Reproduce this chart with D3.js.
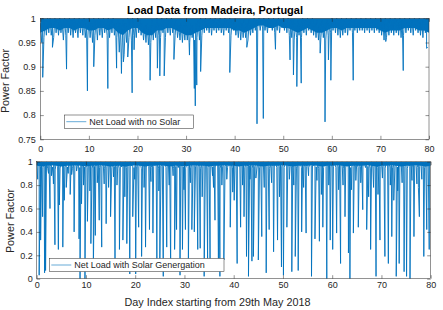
<!DOCTYPE html>
<html>
<head>
<meta charset="utf-8">
<script src="https://cdn.jsdelivr.net/npm/d3@7"></script>
<style>
  body { margin: 0; background: #fff; }
  svg { display: block; font-family: "Liberation Sans", Arial, sans-serif; }
</style>
</head>
<body>
<div id="chart"></div>
<script>
// sampling step of the dense band (days)
var bandStep = 0.25;

// power factor, net load with no solar (band, every 6h)
var topBand = [
  0.99, 0.955, 1, 0.96, 0.995, 0.965, 1, 0.97,
  1, 0.965, 0.99, 0.96, 1, 0.97, 0.995, 0.965,
  1, 0.97, 0.99, 0.955, 1, 0.965, 0.995, 0.97,
  1, 0.965, 0.995, 0.96, 1, 0.97, 0.99, 0.96,
  1, 0.97, 0.995, 0.965, 1, 0.96, 0.99, 0.955,
  1, 0.96, 0.99, 0.95, 1, 0.965, 0.995, 0.955,
  1, 0.965, 0.995, 0.96, 1, 0.97, 0.99, 0.965,
  1, 0.96, 0.995, 0.97, 1, 0.965, 0.99, 0.96,
  0.995, 0.93, 0.99, 0.915, 0.995, 0.925, 0.99, 0.95,
  1, 0.96, 0.995, 0.955, 1, 0.965, 0.99, 0.96,
  1, 0.97, 0.995, 0.965, 0.99, 0.955, 0.985, 0.95,
  0.99, 0.945, 0.985, 0.95, 0.995, 0.955, 0.99, 0.96,
  1, 0.965, 0.99, 0.96, 1, 0.97, 0.995, 0.96,
  1, 0.97, 0.995, 0.965, 1, 0.97, 0.99, 0.965,
  0.995, 0.96, 0.985, 0.955, 0.99, 0.95, 0.985, 0.955,
  0.99, 0.955, 0.985, 0.95, 0.99, 0.96, 0.985, 0.955,
  0.99, 0.96, 0.995, 0.955, 1, 0.965, 0.995, 0.97,
  1, 0.975, 0.995, 0.97, 1, 0.965, 0.995, 0.975,
  1, 0.97, 0.995, 0.975, 1, 0.97, 0.99, 0.965,
  1, 0.975, 0.995, 0.97, 1, 0.965, 0.995, 0.975,
  0.995, 0.965, 0.99, 0.96, 0.995, 0.955, 0.99, 0.96,
  0.995, 0.96, 0.99, 0.955, 0.995, 0.965, 0.99, 0.97,
  1, 0.975, 0.995, 0.98, 1, 0.975, 0.995, 0.98,
  1, 0.975, 0.995, 0.97, 1, 0.98, 0.995, 0.975,
  1, 0.97, 0.995, 0.975, 1, 0.97, 0.995, 0.98,
  1, 0.975, 0.995, 0.97, 1, 0.965, 0.995, 0.96,
  0.995, 0.955, 0.99, 0.96, 0.995, 0.965, 0.99, 0.96,
  1, 0.97, 0.995, 0.965, 1, 0.975, 0.995, 0.97,
  1, 0.965, 0.99, 0.96, 0.995, 0.955, 0.99, 0.96,
  0.995, 0.96, 0.99, 0.955, 0.995, 0.965, 0.99, 0.97,
  1, 0.975, 0.995, 0.97, 1, 0.965, 0.995, 0.96,
  1, 0.965, 0.995, 0.97, 1, 0.965, 0.995, 0.975,
  1, 0.97, 0.995, 0.975, 1, 0.97, 0.995, 0.975,
  1, 0.975, 0.995, 0.97, 1, 0.975, 0.995, 0.97,
  1, 0.975, 0.995, 0.97, 1, 0.975, 0.995, 0.97,
  1, 0.965, 0.995, 0.955, 1, 0.96, 0.995, 0.965,
  1, 0.97, 0.995, 0.965, 1, 0.97, 0.995, 0.965,
  1, 0.96, 0.995, 0.965, 1, 0.97, 0.995, 0.975,
  1, 0.97, 0.995, 0.965, 1, 0.975, 0.995, 0.97,
  1, 0.965, 0.995, 0.96, 1, 0.97, 0.99, 0.94
];

// lower edge of the solid core of the top trace, one value per day (0..80)
var topCore = [
  0.97, 0.975, 0.98, 0.98, 0.975, 0.98, 0.98, 0.975, 0.98, 0.98,
  0.975, 0.975, 0.98, 0.98, 0.975, 0.98, 0.97, 0.965, 0.975, 0.98,
  0.98, 0.97, 0.965, 0.965, 0.975, 0.975, 0.98, 0.98, 0.975, 0.97,
  0.965, 0.965, 0.97, 0.975, 0.98, 0.98, 0.98, 0.98, 0.98, 0.98,
  0.975, 0.975, 0.97, 0.975, 0.98, 0.985, 0.985, 0.98, 0.98, 0.985,
  0.98, 0.98, 0.975, 0.97, 0.975, 0.98, 0.975, 0.97, 0.97, 0.975,
  0.98, 0.98, 0.975, 0.98, 0.98, 0.98, 0.98, 0.98, 0.98, 0.98,
  0.975, 0.97, 0.975, 0.975, 0.975, 0.98, 0.98, 0.98, 0.975, 0.975,
  0.97
];

// deeper drops: [day, power factor]
var topDips = [
  [0.3, 0.95], [0.5, 0.878], [2.5, 0.94], [5.4, 0.895], [9.7, 0.85],
  [11.0, 0.90], [13.9, 0.855], [15.7, 0.897], [16.7, 0.886], [17.1, 0.91],
  [18.0, 0.92], [18.9, 0.846], [19.3, 0.935], [22.6, 0.872], [24.1, 0.897],
  [24.6, 0.881], [25.5, 0.881], [27.5, 0.915], [30.7, 0.924], [31.7, 0.855],
  [31.9, 0.819], [32.2, 0.862], [33.0, 0.89], [39.0, 0.888], [42.5, 0.94],
  [44.6, 0.782], [45.9, 0.793], [48.4, 0.936], [51.4, 0.914], [52.1, 0.883],
  [52.8, 0.859], [53.7, 0.866], [57.6, 0.928], [58.6, 0.786], [59.3, 0.914],
  [59.8, 0.872], [64.4, 0.872], [71.1, 0.952], [74.7, 0.892], [79.5, 0.938]
];

// power factor, net load with solar generation (band, every 6h)
var bottomBand = [
  1, 0.97, 0.995, 0.96, 1, 0.95, 0.99, 0.965,
  1, 0.94, 0.995, 0.96, 1, 0.955, 0.99, 0.93,
  1, 0.96, 0.99, 0.945, 1, 0.965, 0.995, 0.95,
  1, 0.955, 0.99, 0.965, 1, 0.94, 0.995, 0.96,
  1, 0.96, 0.995, 0.95, 1, 0.965, 0.99, 0.955,
  1, 0.95, 0.995, 0.965, 1, 0.945, 0.99, 0.96,
  1, 0.965, 0.99, 0.95, 1, 0.96, 0.995, 0.94,
  1, 0.955, 0.995, 0.965, 1, 0.95, 0.99, 0.96,
  1, 0.96, 0.99, 0.945, 1, 0.955, 0.995, 0.965,
  1, 0.95, 0.995, 0.96, 1, 0.965, 0.99, 0.95,
  1, 0.96, 0.99, 0.955, 1, 0.94, 0.995, 0.965,
  1, 0.955, 0.99, 0.96, 1, 0.95, 0.995, 0.96,
  1, 0.965, 0.995, 0.945, 1, 0.96, 0.99, 0.955,
  1, 0.95, 0.99, 0.965, 1, 0.955, 0.995, 0.94,
  1, 0.96, 0.995, 0.95, 1, 0.965, 0.99, 0.955,
  1, 0.945, 0.99, 0.96, 1, 0.95, 0.995, 0.965,
  1, 0.96, 0.995, 0.955, 1, 0.94, 0.99, 0.96,
  1, 0.965, 0.99, 0.95, 1, 0.96, 0.995, 0.955,
  1, 0.955, 0.995, 0.965, 1, 0.945, 0.99, 0.96,
  1, 0.96, 0.99, 0.95, 1, 0.965, 0.995, 0.95,
  1, 0.97, 0.995, 0.96, 1, 0.955, 0.99, 0.965,
  1, 0.95, 0.995, 0.96, 1, 0.965, 0.99, 0.945,
  1, 0.96, 0.99, 0.955, 1, 0.95, 0.995, 0.965,
  1, 0.955, 0.995, 0.96, 1, 0.94, 0.99, 0.96,
  1, 0.965, 0.99, 0.95, 1, 0.96, 0.995, 0.955,
  1, 0.95, 0.995, 0.965, 1, 0.955, 0.99, 0.96,
  1, 0.96, 0.99, 0.945, 1, 0.965, 0.995, 0.95,
  1, 0.955, 0.995, 0.96, 1, 0.95, 0.99, 0.965,
  1, 0.965, 0.99, 0.955, 1, 0.94, 0.995, 0.96,
  1, 0.95, 0.995, 0.96, 1, 0.965, 0.99, 0.955,
  1, 0.96, 0.99, 0.95, 1, 0.955, 0.995, 0.965,
  1, 0.945, 0.995, 0.96, 1, 0.965, 0.99, 0.95,
  1, 0.96, 0.99, 0.955, 1, 0.95, 0.995, 0.96,
  1, 0.965, 0.995, 0.95, 1, 0.96, 0.99, 0.945,
  1, 0.955, 0.99, 0.965, 1, 0.95, 0.995, 0.96,
  1, 0.96, 0.995, 0.945, 1, 0.965, 0.99, 0.955,
  1, 0.95, 0.99, 0.96, 1, 0.955, 0.995, 0.965,
  1, 0.965, 0.995, 0.955, 1, 0.94, 0.99, 0.96,
  1, 0.955, 0.99, 0.965, 1, 0.95, 0.995, 0.96,
  1, 0.96, 0.995, 0.95, 1, 0.965, 0.99, 0.97
];

// lower edge of the solid core of the bottom trace, one value per day (0..80)
var bottomCore = [
  0.965, 0.96, 0.965, 0.97, 0.965, 0.96, 0.965, 0.965, 0.97, 0.965,
  0.96, 0.965, 0.965, 0.97, 0.965, 0.96, 0.965, 0.965, 0.96, 0.965,
  0.97, 0.965, 0.96, 0.965, 0.965, 0.97, 0.965, 0.96, 0.965, 0.965,
  0.96, 0.965, 0.97, 0.965, 0.965, 0.96, 0.965, 0.965, 0.97, 0.965,
  0.965, 0.96, 0.965, 0.965, 0.97, 0.965, 0.96, 0.965, 0.965, 0.965,
  0.97, 0.965, 0.96, 0.965, 0.965, 0.965, 0.97, 0.965, 0.96, 0.965,
  0.965, 0.97, 0.965, 0.96, 0.965, 0.965, 0.965, 0.97, 0.965, 0.96,
  0.965, 0.965, 0.97, 0.965, 0.96, 0.965, 0.965, 0.97, 0.965, 0.96,
  0.965
];

// midday drops: [day, power factor]
var bottomDips = [
  [0.2, 0.85], [0.5, 0.03], [0.8, 0.33], [1.2, 0.53], [1.6, 0.05], [1.8, 0.07],
  [2.4, 0.9], [2.7, 0.6], [3.0, 0.88], [3.4, 0.81], [3.7, 0.29], [4.4, 0.25],
  [4.6, 0.63], [5.3, 0.27], [5.6, 0.67], [6.0, 0.78], [6.4, 0.9], [6.8, 0.72],
  [7.1, 0.89], [7.6, 0.40], [8.1, 0.92], [8.6, 0.34], [8.8, 0.0], [9.1, 0.64],
  [9.5, 0.8], [9.8, 0.0], [10.3, 0.49], [10.8, 0.75], [11.0, 0.30], [11.5, 0.07],
  [11.9, 0.37], [12.3, 0.82], [12.7, 0.5], [13.2, 0.27], [13.7, 0.81], [14.1, 0.47],
  [14.6, 0.78], [15.0, 0.53], [15.6, 0.87], [15.9, 0.16], [16.3, 0.8], [16.8, 0.25],
  [17.5, 0.33], [17.9, 0.7], [18.3, 0.30], [18.9, 0.04], [19.5, 0.53], [19.9, 0.85],
  [20.1, 0.04], [20.7, 0.44], [21.3, 0.19], [21.8, 0.78], [22.1, 0.27], [22.9, 0.42],
  [23.2, 0.83], [23.6, 0.39], [24.4, 0.16], [24.8, 0.75], [25.0, 0.13], [25.7, 0.02],
  [26.4, 0.27], [26.9, 0.8], [27.2, 0.07], [27.7, 0.88], [28.0, 0.25], [28.4, 0.42],
  [29.1, 0.03], [29.6, 0.25], [29.9, 0.76], [30.2, 0.42], [30.8, 0.12], [31.2, 0.82],
  [31.5, 0.42], [32.0, 0.40], [32.7, 0.25], [33.2, 0.26], [33.6, 0.7], [34.0, 0.02],
  [34.7, 0.16], [35.2, 0.16], [35.7, 0.88], [35.9, 0.78], [36.2, 0.50], [36.9, 0.09],
  [37.2, 0.02], [37.6, 0.8], [38.0, 0.16], [38.6, 0.85], [39.3, 0.44], [39.8, 0.74],
  [40.1, 0.67], [40.7, 0.13], [41.4, 0.44], [41.8, 0.8], [42.1, 0.53], [42.6, 0.19],
  [43.0, 0.02], [43.3, 0.85], [43.7, 0.15], [44.0, 0.19], [44.5, 0.86], [45.0, 0.16],
  [45.7, 0.36], [46.2, 0.78], [46.6, 0.05], [47.2, 0.42], [47.7, 0.82], [48.1, 0.23],
  [48.9, 0.33], [49.3, 0.7], [49.7, 0.10], [50.1, 0.03], [50.8, 0.44], [51.3, 0.85],
  [51.8, 0.06], [52.2, 0.8], [52.5, 0.19], [53.1, 0.07], [53.8, 0.40], [54.2, 0.78],
  [54.7, 0.39], [55.2, 0.88], [55.8, 0.02], [56.5, 0.34], [56.9, 0.84], [57.4, 0.32],
  [57.8, 0.72], [58.1, 0.44], [58.9, 0.0], [59.3, 0.8], [59.6, 0.33], [60.1, 0.25],
  [60.9, 0.39], [61.3, 0.76], [61.7, 0.13], [62.2, 0.8], [62.6, 0.53], [63.3, 0.22],
  [63.6, 0.0], [63.9, 0.76], [64.3, 0.39], [64.8, 0.84], [65.3, 0.44], [65.8, 0.82],
  [66.2, 0.59], [67.0, 0.42], [67.4, 0.7], [67.8, 0.25], [68.4, 0.78], [68.9, 0.02],
  [69.3, 0.72], [69.7, 0.33], [70.2, 0.86], [70.7, 0.19], [71.4, 0.13], [71.8, 0.8],
  [72.1, 0.36], [72.5, 0.67], [73.0, 0.02], [73.3, 0.75], [73.6, 0.13], [74.2, 0.82],
  [74.6, 0.06], [75.1, 0.02], [75.8, 0.0], [76.2, 0.84], [76.6, 0.36], [77.2, 0.81],
  [77.5, 0.78], [77.7, 0.53], [78.2, 0.85], [78.6, 0.19], [79.2, 0.42], [79.7, 0.25]
];

var xTicks = [0, 10, 20, 30, 40, 50, 60, 70, 80];
var topYTicks = [0.75, 0.8, 0.85, 0.9, 0.95, 1];
var bottomYTicks = [0, 0.2, 0.4, 0.6, 0.8, 1];

var width = 443, height = 310;
var lineColor = "#0072BD";
var axisColor = "#262626";
var tickLen = 3.5;

var svg = d3.select("#chart").append("svg")
  .attr("width", width)
  .attr("height", height);

// merge band samples and the drops into one series ordered by day
function series(band, dips) {
  return band.map(function(v, i) { return [i * bandStep, v]; })
    .concat(dips)
    .sort(function(a, b) { return a[0] - b[0]; });
}

function fmt(d) { return String(+d.toFixed(2)); }

function panel(p) {
  var x = d3.scaleLinear().domain([0, 80]).range([p.left, p.right]);
  var y = d3.scaleLinear().domain(p.yDomain).range([p.bottom, p.top]);
  var g = svg.append("g");
  var clipId = "clip" + p.id;

  g.append("clipPath").attr("id", clipId)
    .append("rect")
    .attr("x", p.left).attr("y", p.top)
    .attr("width", p.right - p.left).attr("height", p.bottom - p.top);

  // dense core where the trace overlaps itself
  var core = d3.area()
    .x(function(d, i) { return x(i); })
    .y0(function(d) { return y(d); })
    .y1(y(p.yDomain[1]));

  g.append("path")
    .datum(p.core)
    .attr("clip-path", "url(#" + clipId + ")")
    .attr("fill", lineColor)
    .attr("d", core);

  var line = d3.line()
    .x(function(d) { return x(d[0]); })
    .y(function(d) { return y(d[1]); });

  g.append("path")
    .datum(p.data)
    .attr("clip-path", "url(#" + clipId + ")")
    .attr("fill", "none")
    .attr("stroke", lineColor)
    .attr("stroke-width", 0.9)
    .attr("d", line);

  // ticks on all four sides, pointing inward
  g.append("g").attr("transform", "translate(0," + p.bottom + ")")
    .call(d3.axisBottom(x).tickValues(xTicks).tickSizeInner(-tickLen).tickSizeOuter(0).tickFormat(fmt));
  g.append("g").attr("transform", "translate(0," + p.top + ")")
    .call(d3.axisTop(x).tickValues(xTicks).tickSizeInner(-tickLen).tickSizeOuter(0).tickFormat(""));
  g.append("g").attr("transform", "translate(" + p.left + ",0)")
    .call(d3.axisLeft(y).tickValues(p.yTicks).tickSizeInner(-tickLen).tickSizeOuter(0).tickFormat(fmt));
  g.append("g").attr("transform", "translate(" + p.right + ",0)")
    .call(d3.axisRight(y).tickValues(p.yTicks).tickSizeInner(-tickLen).tickSizeOuter(0).tickFormat(""));

  g.selectAll(".domain").remove();
  g.selectAll(".tick line").attr("stroke", axisColor).attr("stroke-width", 0.5);
  g.selectAll(".tick text")
    .attr("fill", axisColor)
    .style("font-size", "9px")
    .style("font-family", "'Liberation Sans', Arial, sans-serif");
  g.selectAll(".tick text").filter(function() { return this.getAttribute("y") !== null && +this.getAttribute("y") > 0; })
    .attr("y", p.xLabelGap).attr("dy", null);
  g.selectAll(".tick text").filter(function() { return this.getAttribute("x") !== null && +this.getAttribute("x") < 0; })
    .attr("x", -p.yLabelGap);

  g.append("rect")
    .attr("x", p.left).attr("y", p.top)
    .attr("width", p.right - p.left).attr("height", p.bottom - p.top)
    .attr("fill", "none")
    .attr("stroke", axisColor)
    .attr("stroke-width", 0.5);

  g.append("text")
    .attr("transform", "translate(" + p.yTitleX + "," + p.yTitleY + ") rotate(-90)")
    .attr("text-anchor", "middle")
    .attr("fill", axisColor)
    .style("font-size", "10.8px")
    .text("Power Factor");

  // legend
  var lg = g.append("g").attr("transform", "translate(" + p.legend[0] + "," + p.legend[1] + ")");
  lg.append("rect")
    .attr("width", p.legend[2]).attr("height", 13.4)
    .attr("fill", "#fff")
    .attr("stroke", axisColor)
    .attr("stroke-width", 0.5);
  lg.append("line")
    .attr("x1", 2).attr("x2", 22).attr("y1", 6.7).attr("y2", 6.7)
    .attr("stroke", lineColor)
    .attr("stroke-width", 0.6);
  lg.append("text")
    .attr("x", 25).attr("y", 10)
    .attr("fill", axisColor)
    .style("font-size", "9px")
    .text(p.legendText);
}

panel({
  id: "top", left: 40.3, right: 429, top: 18.3, bottom: 139.3,
  yDomain: [0.75, 1], yTicks: topYTicks,
  core: topCore,
  data: series(topBand, topDips),
  xLabelGap: 12.5, yLabelGap: 4.5, yTitleX: 8.5, yTitleY: 81,
  legend: [64.3, 115, 129], legendText: "Net Load with no Solar"
});

panel({
  id: "bottom", left: 36.7, right: 430.7, top: 161.7, bottom: 278.7,
  yDomain: [0, 1], yTicks: bottomYTicks,
  core: bottomCore,
  data: series(bottomBand, bottomDips),
  xLabelGap: 9.5, yLabelGap: 4, yTitleX: 13.5, yTitleY: 221,
  legend: [49.3, 258.3, 174.7], legendText: "Net Load with Solar Genergation"
});

svg.append("text")
  .attr("x", 215).attr("y", 14)
  .attr("text-anchor", "middle")
  .attr("fill", "#000")
  .style("font-size", "11px")
  .style("font-weight", "bold")
  .text("Load Data from Madeira, Portugal");

svg.append("text")
  .attr("x", 217.5).attr("y", 306)
  .attr("text-anchor", "middle")
  .attr("fill", axisColor)
  .style("font-size", "10.8px")
  .text("Day Index starting from 29th May 2018");
</script>
</body>
</html>
